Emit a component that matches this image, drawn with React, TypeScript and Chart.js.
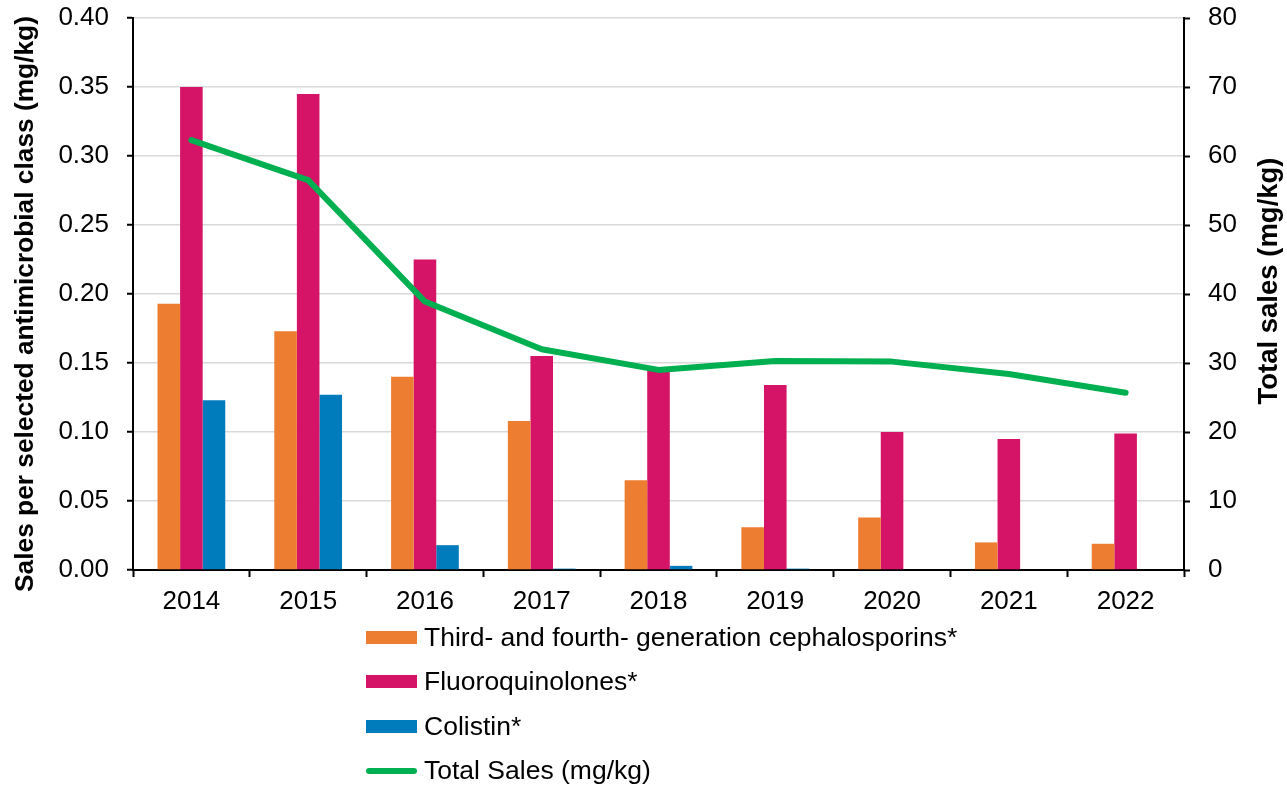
import React, { useEffect, useRef } from "react";
import { Chart, registerables } from "chart.js";

Chart.register(...registerables);

const years = ["2014", "2015", "2016", "2017", "2018", "2019", "2020", "2021", "2022"];
const cephalosporins = [0.193, 0.173, 0.140, 0.108, 0.065, 0.031, 0.038, 0.020, 0.019];
const fluoroquinolones = [0.350, 0.345, 0.225, 0.155, 0.147, 0.134, 0.100, 0.095, 0.099];
const colistin = [0.123, 0.127, 0.018, 0.001, 0.003, 0.001, 0, 0, 0];
const totalSales = [62.3, 56.5, 38.9, 32.0, 29.0, 30.3, 30.2, 28.4, 25.7];

const seriesNames = [
  "Third- and fourth- generation cephalosporins*",
  "Fluoroquinolones*",
  "Colistin*",
  "Total Sales (mg/kg)",
];
const leftTitle = "Sales per selected antimicrobial class (mg/kg)";
const rightTitle = "Total sales (mg/kg)";

const COLORS = {
  ceph: "#ED7D31",
  fluoro: "#D51367",
  colistin: "#007BBB",
  total: "#00B050",
  grid: "#D9D9D9",
};

const FONT = "'Liberation Sans', Arial, Helvetica, sans-serif";

export default function App() {
  const ref = useRef<HTMLCanvasElement>(null);

  useEffect(() => {
    if (!ref.current) return;
    const titlesPlugin = {
      id: "axisTitles",
      afterDraw(chart: any) {
        const ctx = chart.ctx;
        ctx.save();
        ctx.fillStyle = "#000";
        ctx.font = `bold 26.3px ${FONT}`;
        ctx.textAlign = "center";
        ctx.textBaseline = "alphabetic";
        ctx.translate(33, 304);
        ctx.rotate(-Math.PI / 2);
        ctx.fillText(leftTitle, 0, 0);
        ctx.restore();
        ctx.save();
        ctx.fillStyle = "#000";
        ctx.font = `bold 27.5px ${FONT}`;
        ctx.textAlign = "center";
        ctx.textBaseline = "alphabetic";
        ctx.translate(1277, 281);
        ctx.rotate(-Math.PI / 2);
        ctx.fillText(rightTitle, 0, 0);
        ctx.restore();
      },
    };

    const tickFont = { family: FONT, size: 26 };
    const barCommon = {
      yAxisID: "y",
      categoryPercentage: 0.58,
      barPercentage: 1.0,
      order: 1,
      borderWidth: 0,
    };

    const chart = new Chart(ref.current, {
      type: "bar",
      data: {
        labels: years,
        datasets: [
          { ...barCommon, label: seriesNames[0], data: cephalosporins, backgroundColor: COLORS.ceph },
          { ...barCommon, label: seriesNames[1], data: fluoroquinolones, backgroundColor: COLORS.fluoro },
          { ...barCommon, label: seriesNames[2], data: colistin, backgroundColor: COLORS.colistin },
          {
            type: "line",
            label: seriesNames[3],
            data: totalSales,
            yAxisID: "y1",
            borderColor: COLORS.total,
            backgroundColor: COLORS.total,
            borderWidth: 6,
            pointRadius: 0,
            tension: 0,
            borderCapStyle: "round",
            borderJoinStyle: "round",
            order: 0,
          } as any,
        ],
      },
      options: {
        responsive: false,
        animation: false,
        devicePixelRatio: 1,
        layout: { padding: { top: 18, left: 0, right: 0, bottom: 0 } },
        plugins: {
          legend: { display: false },
          tooltip: { enabled: false },
        },
        scales: {
          x: {
            z: 1,
            grid: {
              display: true,
              drawOnChartArea: false,
              drawTicks: true,
              tickLength: 7,
              tickColor: "#000",
              tickWidth: 2,
              offset: true,
            },
            border: { color: "#000", width: 2 },
            ticks: { font: tickFont, color: "#000", padding: 9, maxRotation: 0 },
            afterFit(s: any) {
              s.height = 215;
            },
          },
          y: {
            position: "left",
            min: 0,
            max: 0.4,
            ticks: {
              stepSize: 0.05,
              font: tickFont,
              color: "#000",
              padding: 18,
              callback: (v: any) => Number(v).toFixed(2),
            },
            grid: {
              color: (c: any) => (c.tick && c.tick.value === 0 ? "#000" : COLORS.grid),
              lineWidth: 1.5,
              tickLength: 6,
              tickColor: "#000",
              tickWidth: 2,
            },
            border: { color: "#000", width: 2 },
            afterFit(s: any) {
              s.width = 133;
              s.paddingTop = 0;
              s.paddingBottom = 0;
            },
          },
          y1: {
            position: "right",
            min: 0,
            max: 80,
            ticks: { stepSize: 10, font: tickFont, color: "#000", padding: 18 },
            grid: {
              drawOnChartArea: false,
              tickLength: 6,
              tickColor: "#000",
              tickWidth: 2,
            },
            border: { color: "#000", width: 2 },
            afterFit(s: any) {
              s.width = 103;
              s.paddingTop = 0;
              s.paddingBottom = 0;
            },
          },
        },
      } as any,
      plugins: [titlesPlugin],
    });
    return () => chart.destroy();
  }, []);

  const legendItems = [
    { name: seriesNames[0], color: COLORS.ceph, line: false },
    { name: seriesNames[1], color: COLORS.fluoro, line: false },
    { name: seriesNames[2], color: COLORS.colistin, line: false },
    { name: seriesNames[3], color: COLORS.total, line: true },
  ];

  return (
    <div style={{ position: "absolute", left: 0, top: 0, width: 1287, height: 785, background: "#fff", overflow: "hidden" }}>
      <canvas ref={ref} width={1287} height={785} style={{ position: "absolute", left: 0, top: 0, width: 1287, height: 785 }} />
      <div style={{ position: "absolute", left: 366, top: 615, fontFamily: FONT, fontSize: 26.5, color: "#000" }}>
        {legendItems.map((it) => (
          <div key={it.name} style={{ display: "flex", alignItems: "center", height: 44.5, whiteSpace: "nowrap" }}>
            {it.line ? (
              <span style={{ display: "inline-block", width: 51, height: 6, borderRadius: 3, background: it.color }} />
            ) : (
              <span style={{ display: "inline-block", width: 51, height: 13, background: it.color }} />
            )}
            <span style={{ marginLeft: 7 }}>{it.name}</span>
          </div>
        ))}
      </div>
    </div>
  );
}
